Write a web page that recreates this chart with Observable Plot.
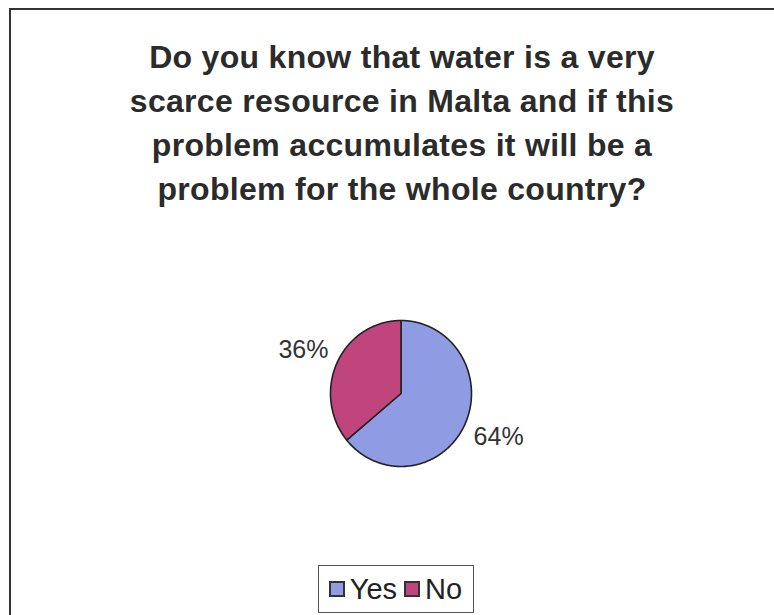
<!DOCTYPE html>
<html><head><meta charset="utf-8">
<script src="https://cdn.jsdelivr.net/npm/d3@7"></script>
<script src="https://cdn.jsdelivr.net/npm/@observablehq/plot@0.6"></script>
<style>
body{margin:0;background:#fff;font-family:"Liberation Sans",Arial,sans-serif;overflow:hidden;width:774px;height:615px;position:relative;}
#frame{position:absolute;left:9px;top:8px;width:820px;height:660px;border:2px solid #333;box-sizing:border-box;}
#title{position:absolute;left:0;top:35px;width:804px;text-align:center;font-weight:bold;font-size:32px;letter-spacing:0.3px;line-height:44px;color:#2b2b2b;}
#chart{position:absolute;left:0;top:210px;}
#legendbox{position:absolute;left:318px;top:565px;width:156px;height:48px;border:1.5px solid #555;box-sizing:border-box;display:flex;align-items:center;justify-content:center;}
.lg-swatches{font-family:"Liberation Sans",Arial,sans-serif !important;font-size:29px !important;color:#222 !important;margin:0 !important;min-height:0 !important;}
.lg-swatch{margin-right:8px !important;}
.lg-swatch:last-child{margin-right:0 !important;}
.lg-swatch > svg{margin-right:6px !important;overflow:visible;}
.lg-swatch > svg rect{stroke:#333;stroke-width:2px;}
</style>
</head><body>
<div id="frame"></div>
<div id="title"></div>
<div id="chart"></div>
<div id="legendbox"></div>
<script>
const titleLines = [
  "Do you know that water is a very",
  "scarce resource in Malta and if this",
  "problem accumulates it will be a",
  "problem for the whole country?"
];
const categories = ["Yes", "No"];
const values = [64, 36];
const labels = ["64%", "36%"];
const colors = ["#8f9be3", "#c0457d"];

document.getElementById("title").innerHTML = titleLines.map(l => `<div>${l}</div>`).join("");

const rows = categories.map((c, i) => ({category: c, value: values[i], label: labels[i]}));
const arcs = d3.pie().sort(null).value(d => d.value)(rows);

const pts = arcs.flatMap(a => {
  const n = Math.max(2, Math.ceil((a.endAngle - a.startAngle) / 0.01));
  const out = [{category: a.data.category, x: 0, y: 0}];
  for (let k = 0; k <= n; k++) {
    const t = a.startAngle + (a.endAngle - a.startAngle) * k / n;
    out.push({category: a.data.category, x: Math.sin(t), y: Math.cos(t)});
  }
  return out;
});
const labelPts = arcs.map(a => {
  const m = (a.startAngle + a.endAngle) / 2;
  return {label: a.data.label, x: 1.53 * Math.sin(m), y: 1.4 * Math.cos(m)};
});

const plot = Plot.plot({
  width: 774,
  height: 340,
  style: {background: "transparent"},
  x: {domain: [-1, 1], range: [330, 471], axis: null},
  y: {domain: [-1, 1], range: [256, 110], axis: null},
  color: {domain: categories, range: colors},
  marks: [
    Plot.line(pts, {x: "x", y: "y", z: "category", fill: "category", stroke: "#222", strokeWidth: 1.6, curve: "linear-closed"}),
    Plot.text(labelPts, {x: "x", y: "y", text: "label", fontSize: 25, fill: "#333", fontFamily: "Liberation Sans, Arial, sans-serif"})
  ]
});
document.getElementById("chart").appendChild(plot);

const legend = Plot.legend({
  color: {domain: categories, range: colors},
  legend: "swatches",
  swatchSize: 14,
  className: "lg"
});
document.getElementById("legendbox").appendChild(legend);
</script>
</body></html>
